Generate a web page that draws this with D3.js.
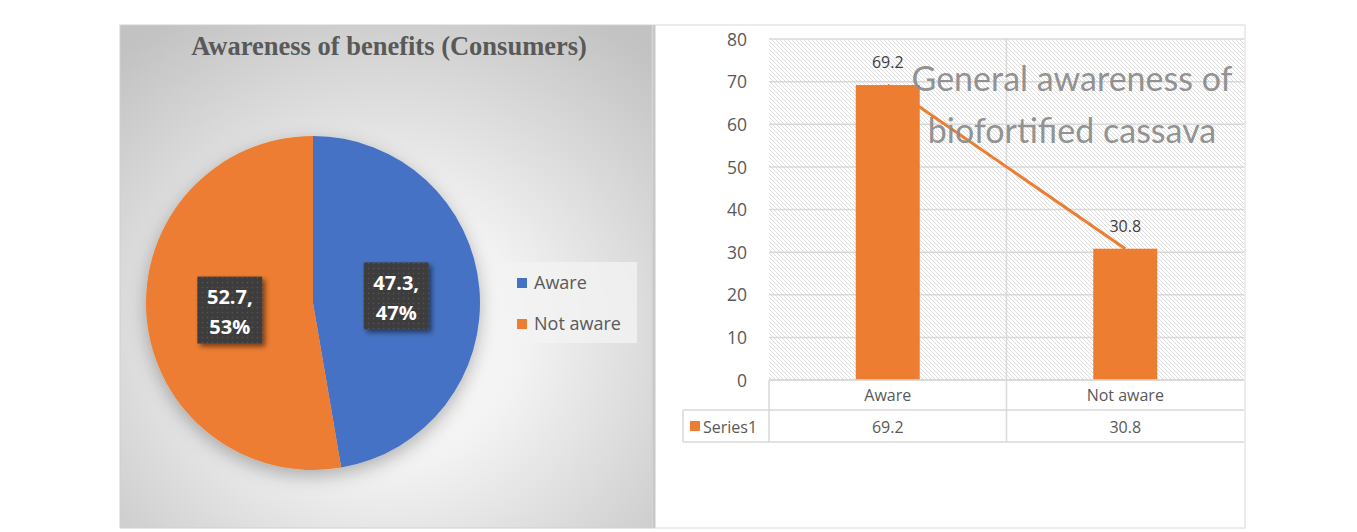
<!DOCTYPE html>
<html><head><meta charset="utf-8">
<script src="https://cdn.jsdelivr.net/npm/d3@7"></script>
<style>body{margin:0;background:#fff}svg{display:block}</style>
</head><body>
<script>
const pieTitle = "Awareness of benefits (Consumers)";
const pieCategories = ["Aware", "Not aware"];
const pieValues = [47.3, 52.7];
const pieColors = ["#4472c4", "#ed7d31"];

const barTitle = ["General awareness of", "biofortified cassava"];
const barCategories = ["Aware", "Not aware"];
const barValues = [69.2, 30.8];
const seriesName = "Series1";
const yTicks = [0, 10, 20, 30, 40, 50, 60, 70, 80];

const W = 1357, H = 532;
const svg = d3.select("body").append("svg").attr("width", W).attr("height", H);
const defs = svg.append("defs");

const rg = defs.append("radialGradient").attr("id", "bgGrad")
  .attr("cx", "50%").attr("cy", "62%").attr("r", "75%");
rg.append("stop").attr("offset", "0%").attr("stop-color", "#ffffff");
rg.append("stop").attr("offset", "35%").attr("stop-color", "#f2f2f2");
rg.append("stop").attr("offset", "100%").attr("stop-color", "#c2c2c2");

const sh = defs.append("filter").attr("id", "pieShadow").attr("x", "-30%").attr("y", "-30%").attr("width", "160%").attr("height", "160%");
sh.append("feDropShadow").attr("dx", 0).attr("dy", 6).attr("stdDeviation", 9).attr("flood-color", "#000").attr("flood-opacity", 0.28);
const sh2 = defs.append("filter").attr("id", "lblShadow").attr("x", "-30%").attr("y", "-30%").attr("width", "160%").attr("height", "160%");
sh2.append("feDropShadow").attr("dx", 3).attr("dy", 3).attr("stdDeviation", 2.5).attr("flood-color", "#000").attr("flood-opacity", 0.5);

const dots = defs.append("pattern").attr("id", "dots").attr("patternUnits", "userSpaceOnUse").attr("width", 5).attr("height", 5);
dots.append("rect").attr("width", 5).attr("height", 5).attr("fill", "#3d3d3d");
dots.append("circle").attr("cx", 2.5).attr("cy", 2.5).attr("r", 0.7).attr("fill", "#5a5a5a");

const hatch = defs.append("pattern").attr("id", "hatch").attr("patternUnits", "userSpaceOnUse").attr("width", 4).attr("height", 4);
hatch.append("rect").attr("width", 4).attr("height", 4).attr("fill", "#ffffff");
hatch.append("path").attr("d", "M-1,-1 L5,5 M-1,3 L1,5 M3,-1 L5,1").attr("stroke", "#cfcfcf").attr("stroke-width", 0.7);

// ---------- Left panel ----------
const LP = {x: 120, y: 25, w: 532, h: 503};
svg.append("rect").attr("x", LP.x).attr("y", LP.y).attr("width", LP.w).attr("height", LP.h)
  .attr("fill", "url(#bgGrad)").attr("stroke", "#d0d0d0");

svg.append("text").attr("x", 389).attr("y", 55).attr("text-anchor", "middle")
  .attr("font-family", "Liberation Serif").attr("font-weight", "bold").attr("font-size", 26.5)
  .attr("fill", "#595959").text(pieTitle);

const cx = 313, cy = 303, R = 167;
const pie = d3.pie().sort(null).value(d => d)(pieValues);
const arc = d3.arc().innerRadius(0).outerRadius(R);
const pg = svg.append("g").attr("transform", `translate(${cx},${cy})`);
pg.append("g").attr("filter", "url(#pieShadow)").selectAll("path").data(pie).join("path")
  .attr("d", arc).attr("fill", (d, i) => pieColors[i]);

const total = d3.sum(pieValues);
pie.forEach((d, i) => {
  const [x, y] = arc.centroid(d);
  const g = pg.append("g").attr("transform", `translate(${x},${y})`);
  g.append("rect").attr("x", -32.5).attr("y", -33.5).attr("width", 65).attr("height", 67)
    .attr("fill", "url(#dots)").attr("filter", "url(#lblShadow)");
  g.append("text").attr("y", -6).attr("text-anchor", "middle")
    .attr("font-family", "Open Sans").attr("font-weight", "bold").attr("font-size", 20)
    .attr("fill", "#fff").text(pieValues[i] + ",");
  g.append("text").attr("y", 24).attr("text-anchor", "middle")
    .attr("font-family", "Open Sans").attr("font-weight", "bold").attr("font-size", 20)
    .attr("fill", "#fff").text(Math.round(pieValues[i] / total * 100) + "%");
});

svg.append("rect").attr("x", 505).attr("y", 262).attr("width", 132).attr("height", 81)
  .attr("fill", "#f2f2f2").attr("opacity", 0.8);
pieCategories.forEach((c, i) => {
  const y = 283 + i * 41;
  svg.append("rect").attr("x", 517).attr("y", y - 5).attr("width", 10).attr("height", 10).attr("fill", pieColors[i]);
  svg.append("text").attr("x", 534).attr("y", y + 6).attr("font-family", "Open Sans").attr("font-size", 18)
    .attr("fill", "#595959").text(c);
});

// ---------- Right panel ----------
const RP = {x: 653, y: 25, w: 592, h: 503};
svg.append("rect").attr("x", RP.x).attr("y", RP.y).attr("width", RP.w).attr("height", RP.h)
  .attr("fill", "#fff").attr("stroke", "#d9d9d9");
svg.append("line").attr("x1", RP.x + 1).attr("x2", RP.x + 1).attr("y1", RP.y).attr("y2", RP.y + RP.h)
  .attr("stroke", "#c8c8c8").attr("stroke-width", 3);

const plot = {l: 769, r: 1244, t: 39, b: 380};
const x = d3.scaleBand().domain(barCategories).range([plot.l, plot.r]).paddingInner(0).paddingOuter(0);
const y = d3.scaleLinear().domain([0, 80]).range([plot.b, plot.t]);

svg.append("rect").attr("x", plot.l).attr("y", plot.t).attr("width", plot.r - plot.l).attr("height", plot.b - plot.t)
  .attr("fill", "url(#hatch)");

svg.append("g").selectAll("line").data(yTicks).join("line")
  .attr("x1", plot.l).attr("x2", plot.r).attr("y1", d => y(d)).attr("y2", d => y(d))
  .attr("stroke", "#d9d9d9").attr("stroke-width", 1.5);
svg.append("line").attr("x1", x("Not aware")).attr("x2", x("Not aware")).attr("y1", plot.t).attr("y2", plot.b)
  .attr("stroke", "#d9d9d9").attr("stroke-width", 1.5);

const yAxis = d3.axisLeft(y).tickValues(yTicks).tickSize(0).tickPadding(0);
const ya = svg.append("g").attr("transform", `translate(${747},0)`).call(yAxis);
ya.select(".domain").remove();
ya.selectAll("text").attr("font-family", "Open Sans").attr("font-size", 17.5).attr("fill", "#595959").attr("dy", "0.35em");

const bw = 64;
svg.append("g").selectAll("rect").data(barValues).join("rect")
  .attr("x", (d, i) => x(barCategories[i]) + x.bandwidth() / 2 - bw / 2)
  .attr("y", d => y(d)).attr("width", bw).attr("height", d => y(0) - y(d))
  .attr("fill", "#ed7d31");

const line = d3.line().x((d, i) => x(barCategories[i]) + x.bandwidth() / 2).y(d => y(d));
svg.append("path").datum(barValues).attr("d", line).attr("fill", "none")
  .attr("stroke", "#ed7d31").attr("stroke-width", 3);

svg.append("g").selectAll("text").data(barValues).join("text")
  .attr("x", (d, i) => x(barCategories[i]) + x.bandwidth() / 2).attr("y", d => y(d) - 17)
  .attr("text-anchor", "middle").attr("font-family", "Open Sans").attr("font-size", 16)
  .attr("fill", "#404040").text(d => d);

barTitle.forEach((t, i) => {
  svg.append("text").attr("x", 1072).attr("y", 91 + i * 52).attr("text-anchor", "middle")
    .attr("font-family", "Lato").attr("font-weight", 400).attr("font-size", 34)
    .attr("fill", "#8c8c8c").attr("fill-opacity", 0.95).text(t);
});

const tbl = {l: 683, r: 1244, r1: 380, r2: 410, r3: 442};
const tg = svg.append("g").attr("stroke", "#d9d9d9").attr("stroke-width", 1.5);
tg.append("line").attr("x1", plot.l).attr("x2", tbl.r).attr("y1", tbl.r1).attr("y2", tbl.r1);
tg.append("line").attr("x1", tbl.l).attr("x2", tbl.r).attr("y1", tbl.r2).attr("y2", tbl.r2);
tg.append("line").attr("x1", tbl.l).attr("x2", tbl.r).attr("y1", tbl.r3).attr("y2", tbl.r3);
tg.append("line").attr("x1", tbl.l).attr("x2", tbl.l).attr("y1", tbl.r2).attr("y2", tbl.r3);
tg.append("line").attr("x1", plot.l).attr("x2", plot.l).attr("y1", tbl.r1).attr("y2", tbl.r3);
tg.append("line").attr("x1", x("Not aware")).attr("x2", x("Not aware")).attr("y1", tbl.r1).attr("y2", tbl.r3);

svg.append("g").selectAll("text").data(barCategories).join("text")
  .attr("x", d => x(d) + x.bandwidth() / 2).attr("y", 401).attr("text-anchor", "middle")
  .attr("font-family", "Open Sans").attr("font-size", 16).attr("fill", "#595959").text(d => d);
svg.append("g").selectAll("text").data(barValues).join("text")
  .attr("x", (d, i) => x(barCategories[i]) + x.bandwidth() / 2).attr("y", 433).attr("text-anchor", "middle")
  .attr("font-family", "Open Sans").attr("font-size", 16).attr("fill", "#595959").text(d => d);
svg.append("rect").attr("x", 690).attr("y", 421).attr("width", 10).attr("height", 10).attr("fill", "#ed7d31");
svg.append("text").attr("x", 703).attr("y", 433).attr("font-family", "Open Sans").attr("font-size", 16)
  .attr("fill", "#595959").text(seriesName);
</script>
</body></html>
